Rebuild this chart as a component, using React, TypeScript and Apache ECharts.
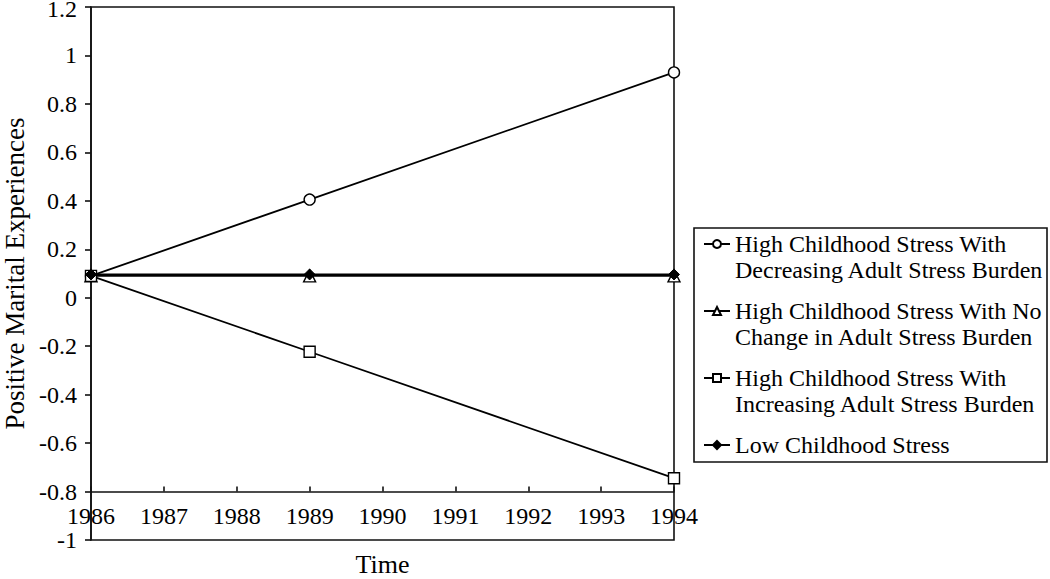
import React, { useEffect, useRef } from "react";
import * as echarts from "echarts";

const years = [1986, 1989, 1994];
const decreasing = [0.09, 0.405, 0.93];
const noChange = [0.09, 0.09, 0.09];
const increasing = [0.09, -0.223, -0.745];
const lowStress = [0.096, 0.096, 0.096];

const seriesNames = [
  "High Childhood Stress With Decreasing Adult Stress Burden",
  "High Childhood Stress With No Change in Adult Stress Burden",
  "High Childhood Stress With Increasing Adult Stress Burden",
  "Low Childhood Stress",
];
const legendLabels = [
  "High Childhood Stress With\nDecreasing Adult Stress Burden",
  "High Childhood Stress With No\nChange in Adult Stress Burden",
  "High Childhood Stress With\nIncreasing Adult Stress Burden",
  "Low Childhood Stress",
];

const xMin = 1986;
const xMax = 1994;
const yMin = -1;
const yMax = 1.2;
const yStep = 0.2;
const xAxisCross = -0.8;

const FONT = "'Liberation Serif', 'Times New Roman', serif";

export default function App() {
  const ref = useRef<HTMLDivElement>(null);
  useEffect(() => {
    document.body.style.margin = "0";
    const chart = echarts.init(ref.current!, null, { renderer: "svg" });
    const H = 579;
    const gridLeft = 91, gridRight = 376, gridTop = 7, gridBottom = 39;
    const plotH = H - gridTop - gridBottom;
    const axisOffset = -((xAxisCross - yMin) / (yMax - yMin)) * plotH;
    const lineH = 26;

    const mk = (vals: number[]) => years.map((y, i) => [y, vals[i]]);
    const base = {
      type: "line",
      color: "#000",
      lineStyle: { color: "#000", width: 1.8 },
    };
    const series: any[] = [
      { ...base, name: seriesNames[0], data: mk(decreasing), symbol: "circle", symbolSize: 11, itemStyle: { color: "#fff", borderColor: "#000", borderWidth: 1.4 } },
      { ...base, name: seriesNames[1], data: mk(noChange), symbol: "triangle", symbolSize: 12, itemStyle: { color: "#fff", borderColor: "#000", borderWidth: 1.4 } },
      { ...base, name: seriesNames[2], data: mk(increasing), symbol: "rect", symbolSize: 11, itemStyle: { color: "#fff", borderColor: "#000", borderWidth: 1.4 } },
      { ...base, name: seriesNames[3], data: mk(lowStress), symbol: "diamond", symbolSize: 11, itemStyle: { color: "#000", borderColor: "#000", borderWidth: 1 } },
    ];

    const txt = { fontFamily: FONT, fontSize: 24, color: "#000", lineHeight: lineH };
    chart.setOption({
      animation: false,
      backgroundColor: "#fff",
      grid: {
        left: gridLeft, right: gridRight, top: gridTop, bottom: gridBottom,
        containLabel: false,
        outerBoundsMode: "none",
        show: true, borderColor: "#111", borderWidth: 1.6, backgroundColor: "transparent",
      },
      xAxis: {
        type: "value", min: xMin, max: xMax, interval: 1,
        offset: axisOffset,
        name: "Time", nameLocation: "middle", nameGap: 60,
        nameTextStyle: { fontFamily: FONT, fontSize: 26, color: "#000" },
        axisLine: { show: true, onZero: false, lineStyle: { color: "#111", width: 1.6 } },
        axisTick: { show: true, inside: true, length: 5, lineStyle: { color: "#111", width: 1.6 } },
        axisLabel: { fontFamily: FONT, fontSize: 24, color: "#000", margin: 12, formatter: (v: number) => String(v) },
        splitLine: { show: false },
      },
      yAxis: {
        type: "value", min: yMin, max: yMax, interval: yStep,
        name: "Positive Marital Experiences", nameLocation: "middle", nameGap: 63,
        nameTextStyle: { fontFamily: FONT, fontSize: 27, color: "#000" },
        axisLine: { show: true, onZero: false, lineStyle: { color: "#111", width: 1.6 } },
        axisTick: { show: true, length: 6, lineStyle: { color: "#111", width: 1.6 } },
        axisLabel: {
          fontFamily: FONT, fontSize: 24, color: "#000", margin: 14,
          formatter: (v: number) => {
            const s = String(Number(v.toFixed(1)));
            return Math.abs(v - yMax) < 1e-9 ? "{top|" + s + "}" : s;
          },
          rich: { top: { fontFamily: FONT, fontSize: 24, color: "#000", lineHeight: 10, padding: [4, 0, 0, 0] } },
        },
        splitLine: { show: false },
      },
      legend: {
        orient: "vertical",
        left: 703,
        top: 244 - (lineH * 3) / 2,
        padding: 0,
        itemGap: 67 - lineH * 3,
        itemWidth: 26,
        itemHeight: 10,
        formatter: (name: string) => {
          const lbl = legendLabels[seriesNames.indexOf(name)];
          return lbl.indexOf("\n") >= 0 ? "\n" + lbl : "\n" + lbl + "\n";
        },
        textStyle: txt,
      },
      graphic: [
        {
          type: "rect",
          shape: { x: 694, y: 228, width: 353, height: 234 },
          style: { fill: "none", stroke: "#111", lineWidth: 1.6 },
          silent: true,
        },
      ],
      series,
    });
    return () => chart.dispose();
  }, []);
  return <div ref={ref} style={{ width: 1050, height: 579 }} />;
}
